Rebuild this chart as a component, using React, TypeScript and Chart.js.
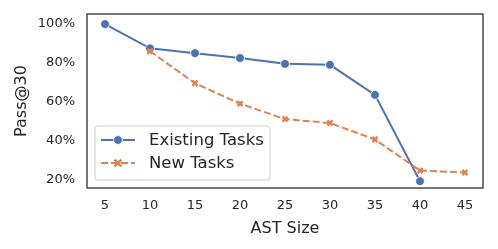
import { useEffect, useRef } from 'react';
import { Chart, registerables } from 'chart.js';
Chart.register(...registerables);

const astSizes = [5, 10, 15, 20, 25, 30, 35, 40, 45];
const existingTasks: (number | null)[] = [100, 87.5, 85, 82.5, 79.5, 79, 63.5, 19, null];
const newTasks: (number | null)[] = [null, 86, 69.5, 59, 51, 49, 40.5, 24.5, 23.5];
const yTicks = [20, 40, 60, 80, 100];
const seriesNames = ['Existing Tasks', 'New Tasks'];

const BLUE = '#4c72b0';
const ORANGE = '#dd8452';
const TEXT = '#262626';
const FONT = 'DejaVu Sans';

const toPoints = (vals: (number | null)[]) =>
  astSizes.map((x, i) => ({ x, y: vals[i] })).filter((p) => p.y !== null);

const framePlugin = {
  id: 'frame',
  afterDatasetsDraw(chart: any) {
    const { ctx, chartArea: a } = chart;
    ctx.save();
    ctx.strokeStyle = TEXT;
    ctx.lineWidth = 1.25;
    ctx.strokeRect(a.left, a.top, a.right - a.left, a.bottom - a.top);

    // legend
    const bx = a.left + 8, by = a.bottom - 62, bw = 175, bh = 54;
    ctx.beginPath();
    const r = 3;
    ctx.moveTo(bx + r, by);
    ctx.lineTo(bx + bw - r, by);
    ctx.quadraticCurveTo(bx + bw, by, bx + bw, by + r);
    ctx.lineTo(bx + bw, by + bh - r);
    ctx.quadraticCurveTo(bx + bw, by + bh, bx + bw - r, by + bh);
    ctx.lineTo(bx + r, by + bh);
    ctx.quadraticCurveTo(bx, by + bh, bx, by + bh - r);
    ctx.lineTo(bx, by + r);
    ctx.quadraticCurveTo(bx, by, bx + r, by);
    ctx.closePath();
    ctx.fillStyle = 'rgba(255,255,255,0.8)';
    ctx.fill();
    ctx.strokeStyle = '#cccccc';
    ctx.lineWidth = 1;
    ctx.stroke();

    const rows = [by + 14, by + 37];
    const lx0 = bx + 6, lx1 = bx + 40, mx = bx + 23;
    ctx.strokeStyle = BLUE;
    ctx.lineWidth = 2;
    ctx.setLineDash([]);
    ctx.beginPath();
    ctx.moveTo(lx0, rows[0]);
    ctx.lineTo(lx1, rows[0]);
    ctx.stroke();
    ctx.beginPath();
    ctx.arc(mx, rows[0], 4.4, 0, Math.PI * 2);
    ctx.fillStyle = BLUE;
    ctx.fill();
    ctx.strokeStyle = '#ffffff';
    ctx.lineWidth = 0.8;
    ctx.stroke();

    ctx.strokeStyle = ORANGE;
    ctx.lineWidth = 2;
    ctx.setLineDash([7, 3]);
    ctx.beginPath();
    ctx.moveTo(lx0, rows[1]);
    ctx.lineTo(lx1, rows[1]);
    ctx.stroke();
    ctx.setLineDash([]);
    ctx.lineWidth = 2.6;
    const s = 3.4;
    ctx.beginPath();
    ctx.moveTo(mx - s, rows[1] - s);
    ctx.lineTo(mx + s, rows[1] + s);
    ctx.moveTo(mx + s, rows[1] - s);
    ctx.lineTo(mx - s, rows[1] + s);
    ctx.stroke();

    ctx.fillStyle = TEXT;
    ctx.font = `16.5px "${FONT}"`;
    ctx.textBaseline = 'middle';
    ctx.textAlign = 'left';
    ctx.fillText(seriesNames[0], bx + 54, rows[0] + 1);
    ctx.fillText(seriesNames[1], bx + 54, rows[1] + 1);
    ctx.restore();
  },
};

export default function App() {
  const ref = useRef<HTMLCanvasElement>(null);
  useEffect(() => {
    document.body.style.margin = '0';
    const chart = new Chart(ref.current!, {
      type: 'line',
      data: {
        datasets: [
          {
            label: seriesNames[0],
            data: toPoints(existingTasks) as any,
            order: 2,
            borderColor: BLUE,
            backgroundColor: BLUE,
            borderWidth: 2,
            pointRadius: 4.4,
            pointBackgroundColor: BLUE,
            pointBorderColor: '#ffffff',
            pointBorderWidth: 0.8,
            pointStyle: 'circle',
            tension: 0,
          },
          {
            label: seriesNames[1],
            data: toPoints(newTasks) as any,
            order: 1,
            borderColor: ORANGE,
            backgroundColor: ORANGE,
            borderWidth: 2,
            borderDash: [7, 3],
            pointRadius: 3.6,
            pointBorderColor: ORANGE,
            pointBorderWidth: 2.4,
            pointStyle: 'crossRot',
            tension: 0,
          },
        ],
      },
      options: {
        animation: false,
        responsive: false,
        clip: false as any,
        layout: { autoPadding: false, padding: { left: 0, right: 15, top: 14, bottom: 0 } },
        plugins: { legend: { display: false }, tooltip: { enabled: false } },
        scales: {
          x: {
            type: 'linear',
            min: 3,
            max: 47,
            grid: { display: false, drawTicks: false },
            border: { display: false },
            afterBuildTicks: (s: any) => {
              s.ticks = astSizes.map((v) => ({ value: v }));
            },
            afterFit: (s: any) => {
              s.height = 61;
              s.paddingLeft = 0;
              s.paddingRight = 0;
            },
            ticks: {
              padding: 10,
              color: TEXT,
              font: { family: FONT, size: 13 },
              maxRotation: 0,
              autoSkip: false,
            },
            title: {
              display: true,
              text: 'AST Size',
              color: TEXT,
              font: { family: FONT, size: 16 },
              padding: { top: 0, bottom: 11 },
            },
          },
          y: {
            min: 15.5,
            max: 105.2,
            grid: { display: false, drawTicks: false },
            border: { display: false },
            afterBuildTicks: (s: any) => {
              s.ticks = yTicks.map((v) => ({ value: v }));
            },
            afterFit: (s: any) => {
              s.width = 87;
              s.paddingTop = 0;
              s.paddingBottom = 0;
            },
            ticks: {
              padding: 12,
              color: TEXT,
              font: { family: FONT, size: 13 },
              callback: (v: any) => `${v}%`,
            },
            title: {
              display: true,
              text: 'Pass@30',
              color: TEXT,
              font: { family: FONT, size: 16 },
              padding: { top: 12, bottom: 0 },
            },
          },
        },
      },
      plugins: [framePlugin],
    });
    return () => chart.destroy();
  }, []);
  return <canvas ref={ref} width={498} height={249} style={{ display: 'block' }} />;
}
